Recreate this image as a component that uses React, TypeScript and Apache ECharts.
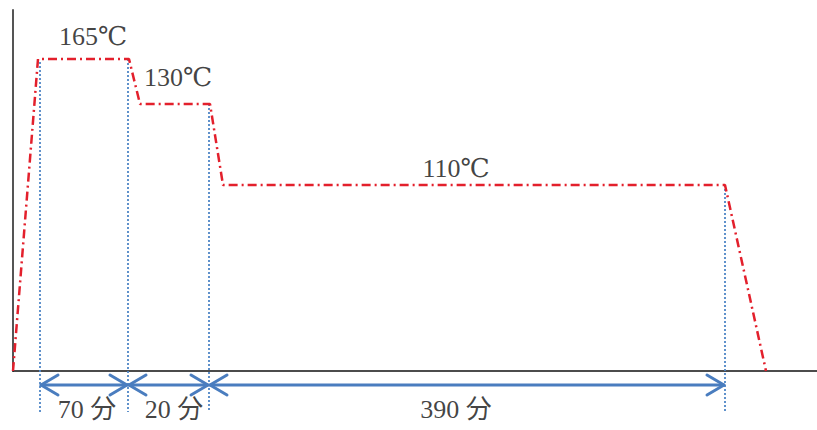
import React, { useEffect, useRef } from "react";
import * as echarts from "echarts";

// Schematic process profile (not to scale, like the original drawing)
const profileTime = [0, 25, 116, 127, 197, 210, 712, 753];
const profileLevel = [0, 312, 312, 267, 267, 186, 186, 0];

// Phase boundaries (dotted guides): [time, top level]
const boundaryTime = [27, 115, 196, 712];
const boundaryTop = [309, 312, 267, 186];

// Phase durations shown by arrows
const phaseStart = [27, 115, 196];
const phaseEnd = [115, 196, 712];
const phaseLabels = ["70 分", "20 分", "390 分"];
const phaseLabelX = [74, 161, 443];

// Temperature labels
const tempLabels = ["165℃", "130℃", "110℃"];
const tempLabelX = [80, 165, 443];
const tempLabelLevel = [335, 294, 203];

const ARROW_LEVEL = -14;
const GUIDE_BOTTOM = -41;
const PHASE_LABEL_LEVEL = -38;

const FONT = "'Liberation Serif', 'DejaVu Serif', 'Noto Sans CJK JP', serif";

export default function App() {
  const ref = useRef<HTMLDivElement>(null);
  useEffect(() => {
    if (!ref.current) return;
    const chart = echarts.init(ref.current, undefined, { renderer: "svg" });
    const option: any = {
      animation: false,
      backgroundColor: "#ffffff",
      grid: { left: 13, right: 0, top: 10, bottom: 59 },
      xAxis: {
        type: "value",
        min: 0,
        max: 804,
        axisLine: { show: true, lineStyle: { color: "#111", width: 1.5 } },
        axisTick: { show: false },
        axisLabel: { show: false },
        splitLine: { show: false },
      },
      yAxis: {
        type: "value",
        min: 0,
        max: 361,
        axisLine: { show: true, lineStyle: { color: "#555", width: 2 } },
        axisTick: { show: false },
        axisLabel: { show: false },
        splitLine: { show: false },
      },
      series: [
        {
          type: "custom",
          clip: false,
          silent: true,
          data: boundaryTime.map((t, i) => [t, boundaryTop[i]]),
          renderItem: (params: any, api: any) => {
            const p1 = api.coord([api.value(0), api.value(1)]);
            const p2 = api.coord([api.value(0), GUIDE_BOTTOM]);
            return {
              type: "line",
              shape: { x1: p1[0], y1: p1[1], x2: p2[0], y2: p2[1] },
              style: { stroke: "#4f86c6", lineWidth: 1.8, lineDash: [2, 2], fill: null },
            };
          },
        },
        {
          type: "line",
          data: profileTime.map((t, i) => [t, profileLevel[i]]),
          symbol: "none",
          clip: false,
          lineStyle: { color: "#e3202c", width: 2.5, type: [9, 4, 2, 4] },
          z: 3,
        },
        {
          type: "custom",
          clip: false,
          silent: true,
          data: phaseStart.map((s, i) => [s, phaseEnd[i], ARROW_LEVEL]),
          renderItem: (params: any, api: any) => {
            const p1 = api.coord([api.value(0), api.value(2)]);
            const p2 = api.coord([api.value(1), api.value(2)]);
            const y = p1[1];
            const st = { stroke: "#4a7dbf", lineWidth: 3, fill: null, lineCap: "round", lineJoin: "round" };
            return {
              type: "group",
              children: [
                { type: "line", shape: { x1: p1[0] + 1, y1: y, x2: p2[0] - 1, y2: y }, style: st },
                {
                  type: "polyline",
                  shape: { points: [[p1[0] + 18, y - 10], [p1[0] + 1, y], [p1[0] + 18, y + 10]] },
                  style: st,
                },
                {
                  type: "polyline",
                  shape: { points: [[p2[0] - 18, y - 10], [p2[0] - 1, y], [p2[0] - 18, y + 10]] },
                  style: st,
                },
              ],
            };
          },
        },
        {
          type: "scatter",
          clip: false,
          silent: true,
          symbolSize: 0,
          data: tempLabels.map((n, i) => ({ name: n, value: [tempLabelX[i], tempLabelLevel[i]] })),
          label: {
            show: true,
            position: "inside",
            formatter: "{b}",
            fontFamily: FONT,
            fontSize: 26,
            color: "#111",
          },
        },
        {
          type: "scatter",
          clip: false,
          silent: true,
          symbolSize: 0,
          data: phaseLabels.map((n, i) => ({ name: n, value: [phaseLabelX[i], PHASE_LABEL_LEVEL] })),
          label: {
            show: true,
            position: "inside",
            formatter: "{b}",
            fontFamily: FONT,
            fontSize: 26,
            color: "#111",
          },
        },
      ],
    };
    chart.setOption(option);
    return () => chart.dispose();
  }, []);
  return (
    <div
      ref={ref}
      style={{ position: "absolute", left: 0, top: 0, width: 817, height: 430 }}
    />
  );
}
